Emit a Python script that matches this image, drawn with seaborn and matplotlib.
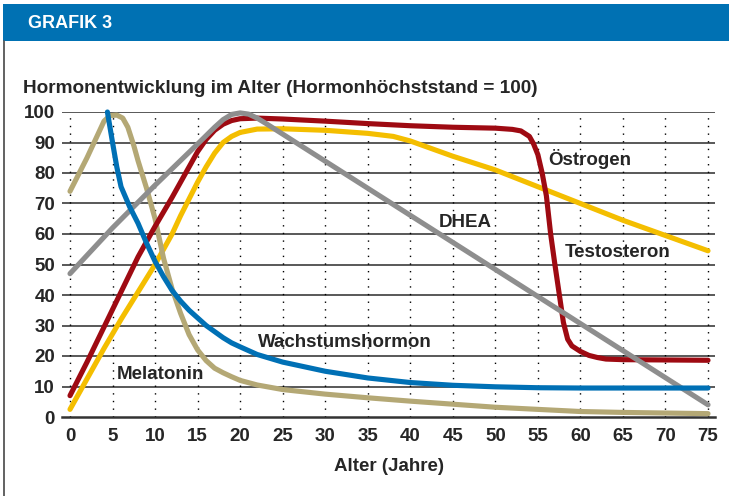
import matplotlib
matplotlib.use("Agg")
import matplotlib.pyplot as plt
from matplotlib.patches import Rectangle
import seaborn as sns

# Werte (Hormonhöchststand = 100)
oestrogen_x = [0, 2, 4, 6, 8, 10, 12, 14, 15, 16, 17, 18, 19, 20, 22, 25, 30, 35, 40, 45, 50, 52,
               53, 54, 54.5, 55, 55.5, 56, 56.5, 57, 57.5, 58, 58.5, 59, 60, 61, 62, 63, 65, 70, 75]
oestrogen_y = [7, 18, 29.5, 41, 52.5, 62.5, 72, 82, 87, 91, 94, 96, 97.2, 97.8, 98, 97.7, 97, 96.2, 95.5, 95, 94.7, 94.3,
               93.8, 92, 89.5, 86, 80, 72.5, 60, 50, 40.5, 31, 25.5, 23.3, 21.5, 20.2, 19.5, 19, 18.8, 18.7, 18.6]

testo_x = [0, 2, 4, 6, 8, 10, 12, 13, 14, 15, 16, 17, 18, 19, 20, 22, 25, 30, 35, 38, 40, 42, 45, 50, 55, 60, 65, 70, 75]
testo_y = [2.5, 12.5, 22.5, 32, 41, 50, 60, 66, 71.5, 77, 82, 86.5, 90, 92, 93.3, 94.4, 94.5, 94, 93, 92, 90.5, 88.5,
           85.5, 81, 75.5, 70, 64.5, 59.5, 54.5]

dhea_x = [0, 5, 10, 15, 17, 18, 19, 20, 21, 22, 23, 75]
dhea_y = [47, 62, 76, 89.5, 95, 97.5, 99.2, 99.7, 99.3, 98, 96.3, 4]

wachstum_x = [4.4, 5, 5.5, 6, 7, 8, 9, 10, 11, 12, 13, 14, 15, 16, 17, 18, 19, 20, 22, 25, 30, 35, 40, 45, 50, 55, 60, 75]
wachstum_y = [100, 90, 82, 75.5, 69, 63.5, 57, 51, 46, 41.5, 38, 35, 32.5, 30, 28, 26, 24.3, 23, 20.5, 18, 15, 12.8,
              11.3, 10.4, 9.9, 9.6, 9.5, 9.5]

melatonin_x = [0, 1, 2, 3, 4, 4.7, 5.5, 6.2, 6.8, 7.5, 8, 9, 10, 11, 12, 13, 14, 15, 16, 17, 18, 19, 20, 22, 25, 30,
               35, 40, 45, 50, 55, 60, 65, 70, 75]
melatonin_y = [74, 79.5, 85, 91, 97, 98.8, 99, 98, 95, 89, 84, 75, 65, 52, 42, 34, 27, 22, 18.5, 16, 14.5, 13.2, 12,
               10.5, 9, 7.5, 6.3, 5.2, 4.2, 3.2, 2.5, 1.8, 1.5, 1.3, 1.1]

x_ticks = list(range(0, 80, 5))
y_ticks = list(range(0, 110, 10))

sns.set_theme(style="white")
plt.rcParams["font.family"] = ["Liberation Sans", "DejaVu Sans"]
plt.rcParams["font.weight"] = "bold"

W, H = 729, 496
fig = plt.figure(figsize=(W / 100, H / 100), dpi=100)
fig.patch.set_facecolor("white")

# Kopfleiste und Rahmen
fig.patches.append(Rectangle((3 / W, 1 - 40.5 / H), 1, 36.5 / H, transform=fig.transFigure,
                             facecolor="#0071B3", edgecolor="none"))
fig.lines.append(plt.Line2D([4 / W, 4 / W], [0, 1 - 40.5 / H], transform=fig.transFigure,
                            color="#555555", lw=1.3))
fig.text(28 / W, 1 - 28.5 / H, "GRAFIK 3", color="white", fontsize=13, fontweight="bold", va="baseline")
fig.text(23 / W, 1 - 93 / H, "Hormonentwicklung im Alter (Hormonhöchststand = 100)",
         fontsize=13.7, fontweight="bold", va="baseline")

ax = fig.add_axes([62 / W, 1 - 417 / H, (715 - 62) / W, (417 - 112) / H])
ax.set_xlim(-0.94, 75.82)
ax.set_ylim(0, 100)

for v in y_ticks[1:]:
    ax.axhline(v, color="#3c3c3c", lw=1.2, zorder=1)
for v in x_ticks:
    ax.plot([v, v], [0, 100], color="black", lw=1.0, ls=(0, (1, 4.5)), zorder=1)

lw = 3.7
sns.lineplot(x=testo_x, y=testo_y, ax=ax, color="#F4BE00", lw=lw, solid_capstyle="round", clip_on=False, zorder=3)
sns.lineplot(x=melatonin_x, y=melatonin_y, ax=ax, color="#B4A875", lw=lw, solid_capstyle="round", clip_on=False, zorder=3)
sns.lineplot(x=oestrogen_x, y=oestrogen_y, ax=ax, color="#9E0A12", lw=lw, solid_capstyle="round", clip_on=False, zorder=4)
sns.lineplot(x=dhea_x, y=dhea_y, ax=ax, color="#8E8E8E", lw=lw, solid_capstyle="round", clip_on=False, zorder=4)
sns.lineplot(x=wachstum_x, y=wachstum_y, ax=ax, color="#0070B5", lw=lw, solid_capstyle="round", clip_on=False, zorder=5)

fs = 13.5
ax.text(56.2, 82.6, "Östrogen", fontsize=fs, fontweight="bold", va="baseline")
ax.text(58.2, 52.5, "Testosteron", fontsize=fs, fontweight="bold", va="baseline")
ax.text(43.3, 62.3, "DHEA", fontsize=fs, fontweight="bold", va="baseline")
ax.text(22.1, 23, "Wachstumshormon", fontsize=fs, fontweight="bold", va="baseline")
ax.text(5.5, 12.5, "Melatonin", fontsize=fs, fontweight="bold", va="baseline")

ax.set_xticks(x_ticks)
ax.set_yticks(y_ticks)
ax.tick_params(axis="both", length=0, labelsize=13.5)
ax.tick_params(axis="y", pad=5)
ax.tick_params(axis="x", pad=8)
for lab in ax.get_xticklabels() + ax.get_yticklabels():
    lab.set_fontweight("bold")
ax.set_xlabel("Alter (Jahre)", fontsize=13.5, fontweight="bold", labelpad=9)
ax.set_ylabel("")

for s in ["left", "right", "top"]:
    ax.spines[s].set_visible(False)
ax.spines["bottom"].set_color("#333333")
ax.spines["bottom"].set_linewidth(1.8)
ax.set_facecolor("white")

fig.savefig("out.png", dpi=100)
